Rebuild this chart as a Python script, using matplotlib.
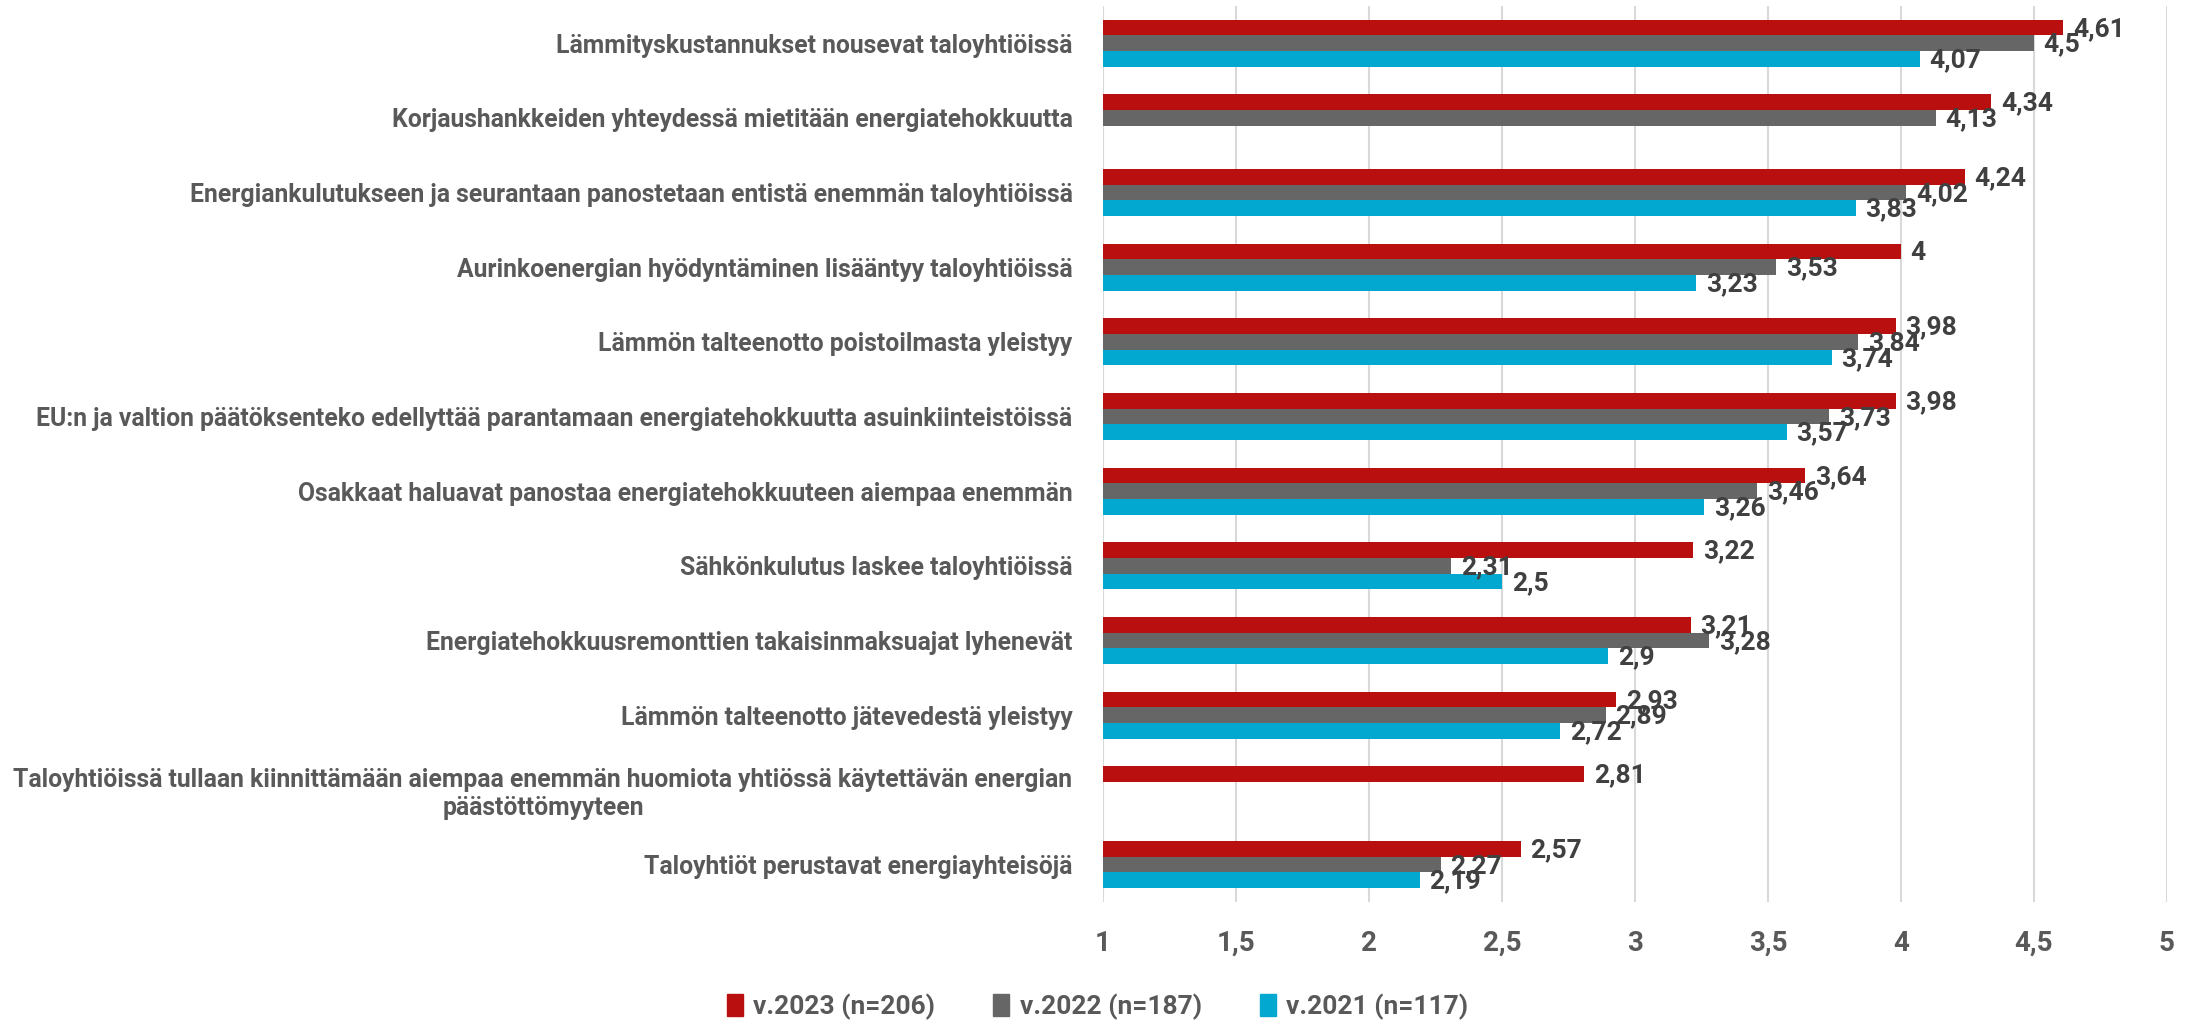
import matplotlib.pyplot as plt
import numpy as np

plt.rcParams['font.family'] = ['Roboto', 'DejaVu Sans']
plt.rcParams['font.weight'] = 'bold'

categories = [
    "Lämmityskustannukset nousevat taloyhtiöissä",
    "Korjaushankkeiden yhteydessä mietitään energiatehokkuutta",
    "Energiankulutukseen ja seurantaan panostetaan entistä enemmän taloyhtiöissä",
    "Aurinkoenergian hyödyntäminen lisääntyy taloyhtiöissä",
    "Lämmön talteenotto poistoilmasta yleistyy",
    "EU:n ja valtion päätöksenteko edellyttää parantamaan energiatehokkuutta asuinkiinteistöissä",
    "Osakkaat haluavat panostaa energiatehokkuuteen aiempaa enemmän",
    "Sähkönkulutus laskee taloyhtiöissä",
    "Energiatehokkuusremonttien takaisinmaksuajat lyhenevät",
    "Lämmön talteenotto jätevedestä yleistyy",
    "Taloyhtiöissä tullaan kiinnittämään aiempaa enemmän huomiota yhtiössä käytettävän energian\npäästöttömyyteen",
    "Taloyhtiöt perustavat energiayhteisöjä",
]
v2023 = [4.61, 4.34, 4.24, 4.00, 3.98, 3.98, 3.64, 3.22, 3.21, 2.93, 2.81, 2.57]
v2022 = [4.50, 4.13, 4.02, 3.53, 3.84, 3.73, 3.46, 2.31, 3.28, 2.89, None, 2.27]
v2021 = [4.07, None, 3.83, 3.23, 3.74, 3.57, 3.26, 2.50, 2.90, 2.72, None, 2.19]
series_names = ["v.2023 (n=206)", "v.2022 (n=187)", "v.2021 (n=117)"]
colors = ["#BA0F0F", "#666666", "#02A8CF"]
xticks = [1, 1.5, 2, 2.5, 3, 3.5, 4, 4.5, 5]

text_col = "#595959"
val_col = "#404040"


def fmt(v):
    return ("%g" % v).replace(".", ",")


fig = plt.figure(figsize=(21.95, 10.23), dpi=100)
ax = fig.add_axes([0.5025, 0.1183, 0.4847, 0.8761])

y = np.arange(len(categories))
h = 0.21
handles = []
for k, (vals, col) in enumerate(zip([v2023, v2022, v2021], colors)):
    ypos = y + (k - 1) * h
    for yi, v in zip(ypos, vals):
        if v is None:
            continue
        ax.barh(yi, v, height=h, color=col, linewidth=0, zorder=2)
        ax.annotate(fmt(v), (v, yi), xytext=(7, -1), textcoords='offset points',
                    va='center', ha='left', fontsize=19, color=val_col,
                    fontweight='bold', zorder=3)
    handles.append(plt.Rectangle((0, 0), 1, 1, color=col))

ax.set_xlim(1, 5)
ax.set_ylim(11.5, -0.5)
ax.set_xticks(xticks)
ax.set_xticklabels([fmt(t) for t in xticks], fontsize=20, color=text_col, fontweight='bold')
ax.set_yticks(y)
ax.set_yticklabels(categories, fontsize=17.8, color=text_col, fontweight='bold',
                   multialignment='center')
ax.tick_params(axis='x', length=0, pad=20)
ax.tick_params(axis='y', length=0, pad=22)
ax.grid(axis='x', color='#D9D9D9', linewidth=1.5, zorder=0)
for s in ax.spines.values():
    s.set_visible(False)

fig.legend(handles, series_names, loc='center', bbox_to_anchor=(0.5, 0.016), ncol=3,
           frameon=False, fontsize=19, handlelength=0.6, handleheight=0.9,
           handletextpad=0.4, columnspacing=2.2, labelcolor=text_col)

fig.savefig("out.png", dpi=100)
